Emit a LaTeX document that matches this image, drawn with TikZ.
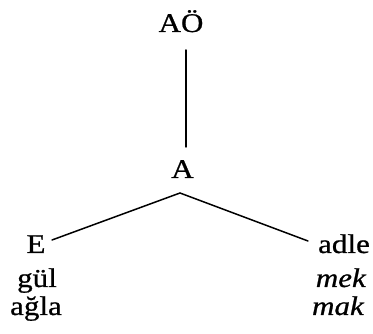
\documentclass[tikz,border=0pt]{standalone}
\usepackage{fontspec}
\setmainfont[FakeStretch=1.15,FakeBold=0.8]{Liberation Serif}
\begin{document}
\begin{tikzpicture}[x=1pt,y=-1pt,
  lbl/.style={inner sep=0pt,font=\fontsize{27}{30}\selectfont},
  edge/.style={line width=1.5pt,line cap=round}]
\useasboundingbox (0,0) rectangle (373,334);
\node[lbl,anchor=base] (AO) at (181,32) {AÖ};
\node[lbl,anchor=base] (A) at (182.5,178) {A};
\node[lbl,anchor=base] (E) at (36,253) {E};
\node[lbl,anchor=base] (gul) at (37,287) {gül};
\node[lbl,anchor=base] (agla) at (36,315) {ağla};
\node[lbl,anchor=base] (adle) at (344,253) {adle};
\node[lbl,anchor=base east] (mek) at (366,287) {\itshape mek};
\node[lbl,anchor=base east] (mak) at (364,315) {\itshape mak};
\coordinate (v1) at (186,50);
\coordinate (v2) at (186,147);
\coordinate (apex) at (180,193);
\coordinate (eL) at (52,240);
\coordinate (eR) at (308,241);
\draw[edge] (v1) -- (v2);
\draw[edge] (eL) -- (apex) -- (eR);
\end{tikzpicture}
\end{document}
